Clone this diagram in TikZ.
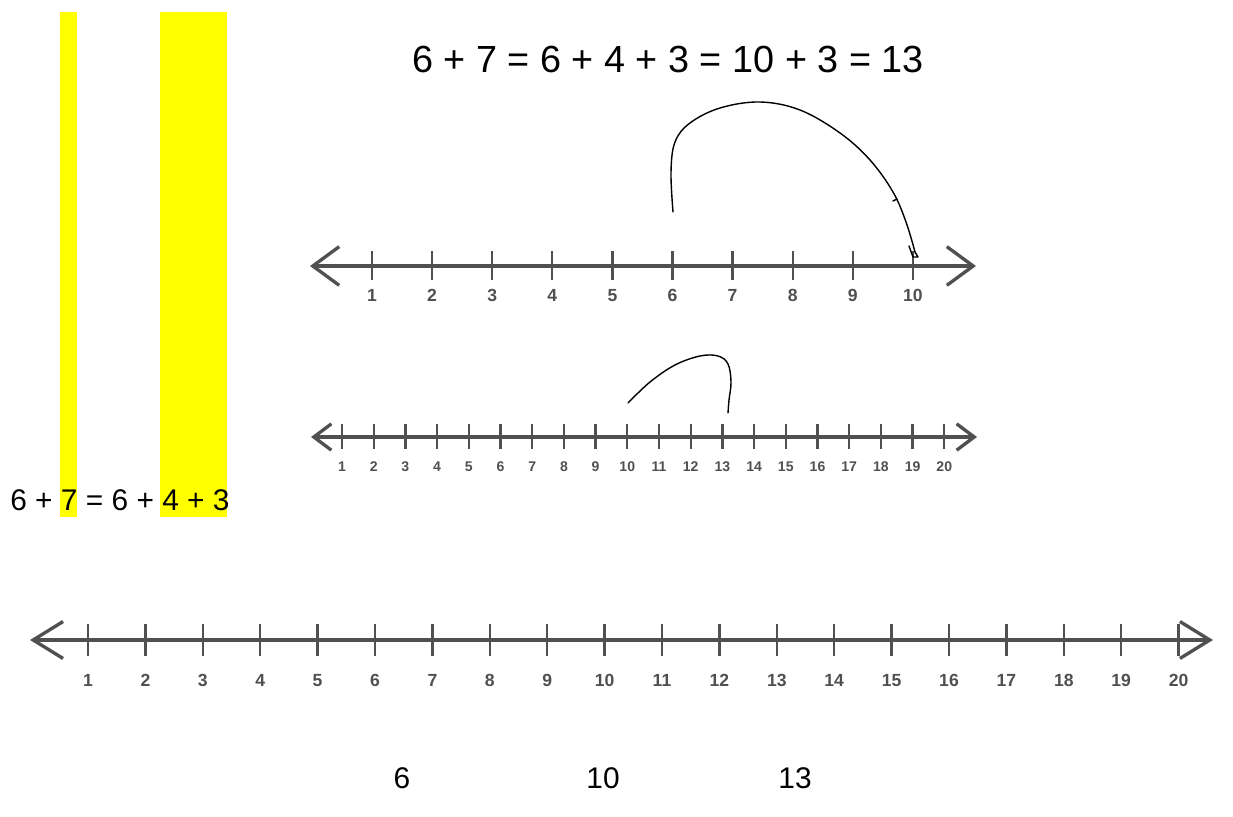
\documentclass[tikz,border=0pt]{standalone}
\usepackage{fontspec}
\setmainfont{Liberation Sans}
\usetikzlibrary{arrows.meta, positioning, calc}
\definecolor{lineGray}{RGB}{80,80,80}
\definecolor{hiYellow}{RGB}{255,255,0}

\begin{document}
\begin{tikzpicture}[
  x=0.02cm, y=-0.02cm,
  nline/.style={lineGray, line width=1.9pt},
  tck/.style={lineGray, line width=1.3pt},
  nlab/.style={lineGray, font=\fontsize{10}{10}\selectfont\bfseries, inner sep=0pt, anchor=base},
  eqn/.style={font=\fontsize{17}{17}\selectfont, inner sep=0pt},
  hand/.style={black, line width=0.8pt, line cap=round, line join=round}
]
  \useasboundingbox (0,0) rectangle (1233,817);
  % highlight bars
  \fill[hiYellow] (60,12) rectangle (77,517);
  \fill[hiYellow] (160,12) rectangle (227,517);
  \node[eqn, anchor=base west] (split) at (10,510) {6 + 7 = 6 + 4 + 3};
  \node[font=\fontsize{21.5}{21.5}\selectfont, inner sep=0pt, anchor=base] (title) at (668,73) {6 + 7 = 6 + 4 + 3 = 10 + 3 = 13};

  % number line 1 to 10
  \coordinate (aw) at (310,266);
  \coordinate (ae) at (976,266);
  \draw[nline, {Straight Barb[length=15pt,width=22pt]}-{Straight Barb[length=15pt,width=22pt]}] (aw) -- (ae);
  \foreach \i in {1,...,10} {
    \draw[tck] ({372+60.1*(\i-1)},251) -- ({372+60.1*(\i-1)},280);
    \node[nlab] (a\i) at ({372+60.1*(\i-1)},302) {\i};
  }
  \draw[hand] plot[smooth, tension=0.6] coordinates {(673,212) (671,172) (675,142) (690,123) (720,108) (760,102) (800,110) (840,133) (870,160) (893,192) (906,222) (915,252)};
  \draw[hand] (915,252) -- (918,257) -- (913,257) -- (909,246);
  \draw[hand] (893,201) -- (897,199);

  % number line 1 to 20
  \coordinate (bw) at (311,437);
  \coordinate (be) at (977,437);
  \draw[nline, {Straight Barb[length=10pt,width=15pt]}-{Straight Barb[length=10pt,width=15pt]}] (bw) -- (be);
  \foreach \i in {1,...,20} {
    \draw[tck] ({342+31.7*(\i-1)},424) -- ({342+31.7*(\i-1)},449);
    \node[nlab, font=\fontsize{8}{8}\selectfont\bfseries] (b\i) at ({342+31.7*(\i-1)},471) {\i};
  }
  \draw[hand] plot[smooth, tension=0.6] coordinates {(628,403) (650,382) (675,365) (700,356) (718,356) (728,364) (731,382) (729,400) (728,413)};

  % long number line
  \coordinate (cw) at (30,640);
  \coordinate (ce) at (1213,640);
  \draw[nline, {Straight Barb[length=17pt,width=21pt]}-{Straight Barb[length=17pt,width=21pt]}] (cw) -- (ce);
  \foreach \i in {1,...,20} {
    \draw[tck] ({88+57.4*(\i-1)},624) -- ({88+57.4*(\i-1)},656);
    \node[nlab] (c\i) at ({88+57.4*(\i-1)},686) {\i};
  }

  % answer steps
  \node[eqn] (s6) at (402,778) {6};
  \node[eqn] (s10) at (603,778) {10};
  \node[eqn] (s13) at (795,778) {13};
\end{tikzpicture}
\end{document}
